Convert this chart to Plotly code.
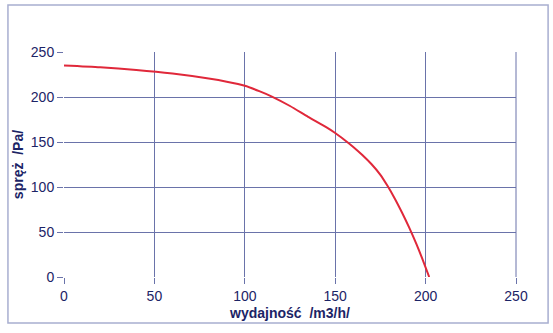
import plotly.graph_objects as go

flow = [0, 20, 40, 60, 80, 90, 100, 108, 115, 125, 135, 145, 150, 155, 160, 165, 170, 175, 179, 183, 187, 191, 195, 198, 202]
pressure = [235, 233, 230, 226, 220.5, 217, 212.5, 206.5, 200.5, 190, 178, 166.5, 160, 152.5, 144.5, 135.5, 125.5, 113.5, 101, 87, 71.4, 54.6, 36.2, 21.2, 0]
tick_vals = [0, 50, 100, 150, 200, 250]

navy = "#1c2466"
grid = "#6a73aa"

fig = go.Figure()
fig.add_trace(go.Scatter(x=flow, y=pressure, mode="lines",
                         line=dict(color="#e0283a", width=2, shape="spline", smoothing=0.6),
                         showlegend=False, hoverinfo="skip"))

axis_common = dict(
    range=[0, 250], tickvals=tick_vals, showgrid=True, gridcolor=grid, gridwidth=1,
    zeroline=False, showline=False, ticks="outside", ticklen=6, tickcolor=grid,
    tickfont=dict(family="Liberation Sans, Arial", size=14, color=navy),
)
fig.update_xaxes(**axis_common,
                 title=dict(text="<b>wydajność  /m3/h/</b>", standoff=5,
                            font=dict(family="Liberation Sans, Arial", size=14, color=navy)))
fig.update_yaxes(**axis_common,
                 title=dict(text="<b>spręż  /Pa/</b>", standoff=3,
                            font=dict(family="Liberation Sans, Arial", size=14, color=navy)))

fig.add_shape(type="rect", xref="paper", yref="paper",
              x0=-0.124, x1=1.071, y0=-0.204, y1=1.209,
              line=dict(color="#a8aed0", width=1.5), layer="below")
fig.add_shape(type="line", xref="paper", yref="paper", x0=1, x1=1, y0=0, y1=1,
              line=dict(color=grid, width=1))

fig.update_layout(
    width=553, height=333,
    margin=dict(l=64, r=37, t=52, b=56, autoexpand=False),
    paper_bgcolor="white", plot_bgcolor="white",
)
fig.write_html("out.html", config={"displayModeBar": False, "staticPlot": True})

with open("out.html", "r", encoding="utf-8") as f:
    html = f.read()
html = html.replace("<head>", "<head><style>html,body{margin:0;padding:0;overflow:hidden}</style>", 1)
with open("out.html", "w", encoding="utf-8") as f:
    f.write(html)
